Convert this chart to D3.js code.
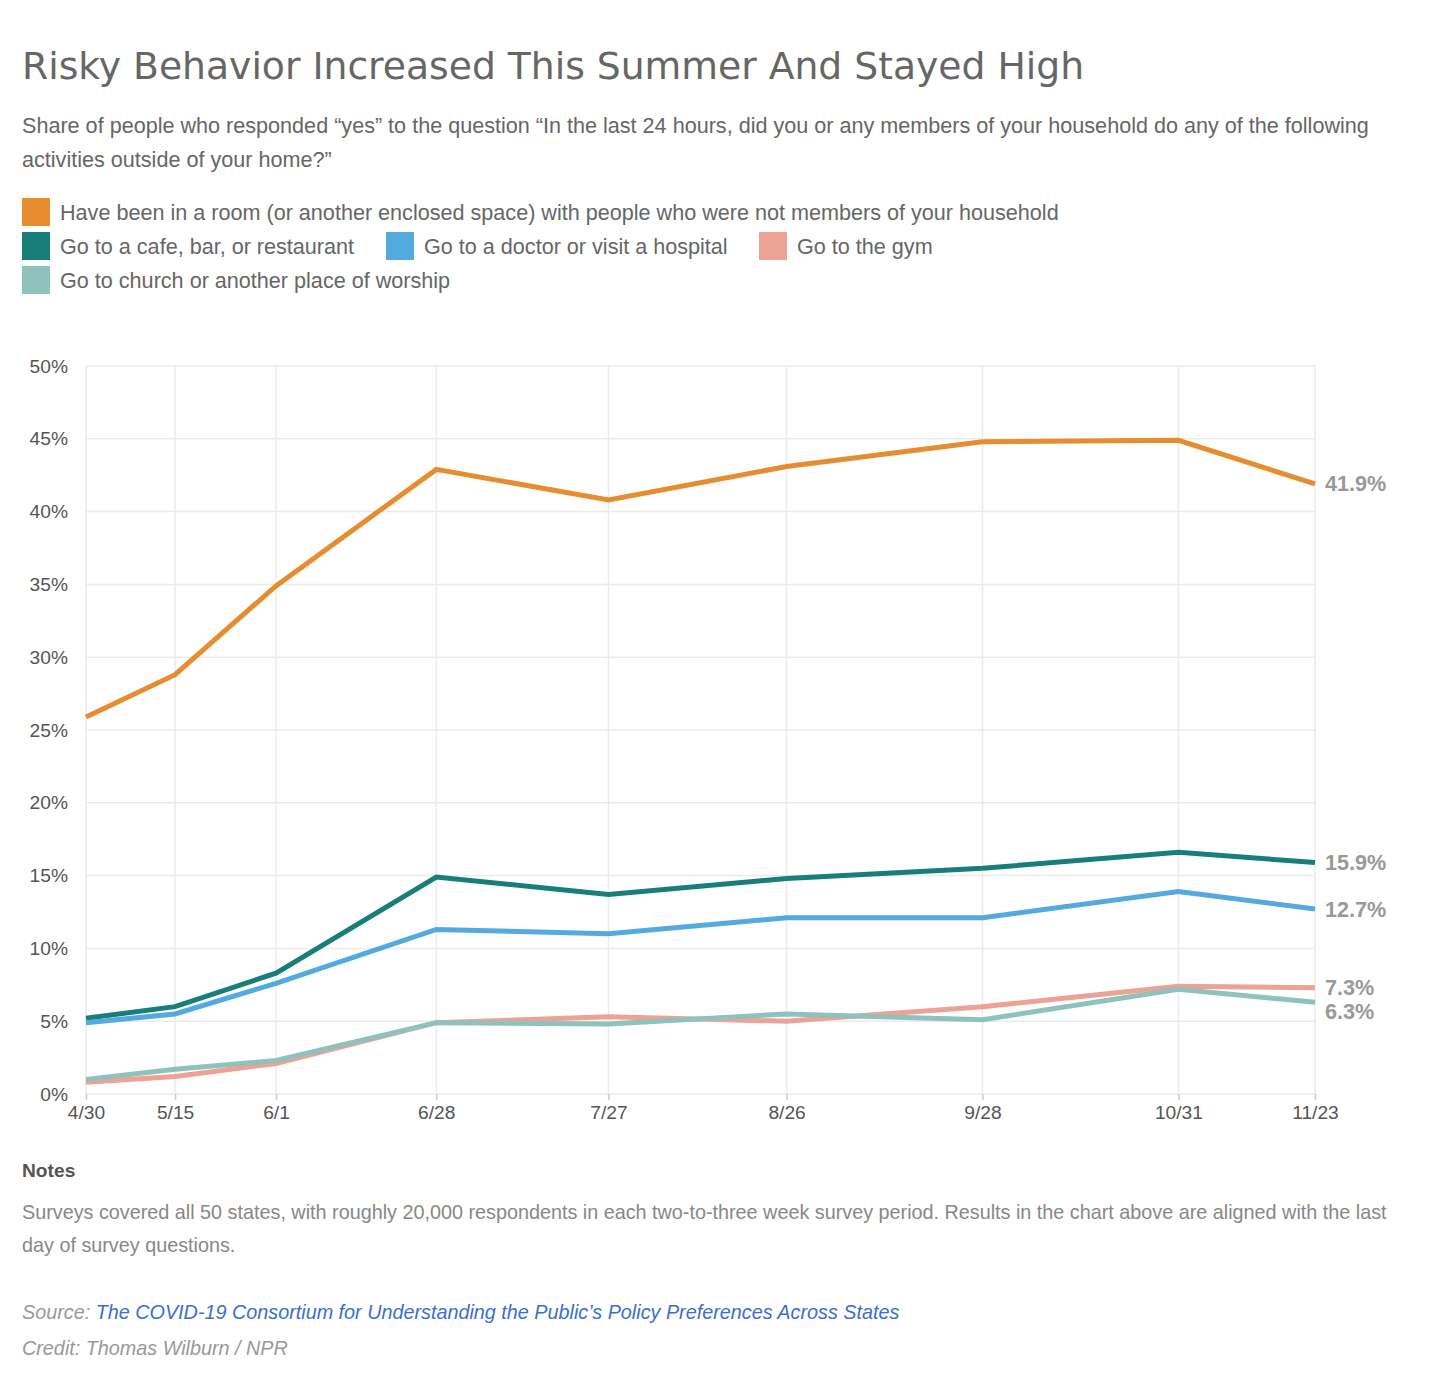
<!DOCTYPE html>
<html><head><meta charset="utf-8">
<script src="https://cdn.jsdelivr.net/npm/d3@7"></script>
<style>
body{margin:0;background:#fff;}
text{font-family:"Liberation Sans",Arial,Helvetica,sans-serif;}
</style></head>
<body>
<svg id="chart" width="1436" height="1382"></svg>
<script>
const dates = ["2020-04-30","2020-05-15","2020-06-01","2020-06-28","2020-07-27","2020-08-26","2020-09-28","2020-10-31","2020-11-23"];
const tickLabels = ["4/30","5/15","6/1","6/28","7/27","8/26","9/28","10/31","11/23"];
const seriesNames = [
  "Have been in a room (or another enclosed space) with people who were not members of your household",
  "Go to a cafe, bar, or restaurant",
  "Go to a doctor or visit a hospital",
  "Go to the gym",
  "Go to church or another place of worship"
];
const roomValues   = [25.9, 28.8, 34.9, 42.9, 40.8, 43.1, 44.8, 44.9, 41.9];
const cafeValues   = [5.2, 6.0, 8.3, 14.9, 13.7, 14.8, 15.5, 16.6, 15.9];
const doctorValues = [4.9, 5.5, 7.6, 11.3, 11.0, 12.1, 12.1, 13.9, 12.7];
const gymValues    = [0.8, 1.2, 2.1, 4.9, 5.3, 5.0, 6.0, 7.4, 7.3];
const churchValues = [1.0, 1.7, 2.3, 4.9, 4.8, 5.5, 5.1, 7.2, 6.3];
const yTicks = [0,5,10,15,20,25,30,35,40,45,50];
const colors = ["#e68d2f","#187f78","#52aade","#eca295","#8fc2bd"];

const allValues = [roomValues, cafeValues, doctorValues, gymValues, churchValues];
const parse = d3.timeParse("%Y-%m-%d");
const dts = dates.map(parse);

const svg = d3.select("#chart");

// Title & subtitle
svg.append("text").attr("x",22).attr("y",79)
  .style("font-family","'DejaVu Sans',sans-serif").style("font-size","37.7px").attr("fill","#666")
  .text("Risky Behavior Increased This Summer And Stayed High");
const sub = svg.append("text").style("font-size","21.6px").attr("fill","#666");
sub.append("tspan").attr("x",22).attr("y",133).text("Share of people who responded \u201cyes\u201d to the question \u201cIn the last 24 hours, did you or any members of your household do any of the following");
sub.append("tspan").attr("x",22).attr("y",167).text("activities outside of your home?\u201d");

// Legend
const legendPos = [[22,198],[22,232],[386,232],[759,232],[22,266]];
seriesNames.forEach((n,i)=>{
  const [lx,ly] = legendPos[i];
  svg.append("rect").attr("x",lx).attr("y",ly).attr("width",28).attr("height",28).attr("fill",colors[i]);
  svg.append("text").attr("x",lx+38).attr("y",ly+22).style("font-size","21.6px").attr("fill","#666").text(n);
});

// Chart
const x = d3.scaleTime().domain([dts[0], dts[dts.length-1]]).range([86,1315]);
const y = d3.scaleLinear().domain([0,50]).range([1094,366]);

const g = svg.append("g");
g.selectAll(".hg").data(yTicks).join("line")
  .attr("x1",86).attr("x2",1315).attr("y1",d=>y(d)).attr("y2",d=>y(d))
  .attr("stroke","#ebebeb").attr("stroke-width",1.5);
g.selectAll(".vg").data(dts).join("line")
  .attr("x1",d=>x(d)).attr("x2",d=>x(d)).attr("y1",366).attr("y2",1094)
  .attr("stroke","#ebebeb").attr("stroke-width",1.5);

// y axis labels
const yAxis = d3.axisLeft(y).tickValues(yTicks).tickFormat(d=>d+"%").tickSize(0).tickPadding(18);
const ya = svg.append("g").attr("transform","translate(86,0)").call(yAxis);
ya.select(".domain").remove();
ya.selectAll("text").style("font-size","19.2px").attr("fill","#555").style("font-family","'Liberation Sans',Arial,sans-serif");

// x axis
const xAxis = d3.axisBottom(x).tickValues(dts).tickFormat((d,i)=>tickLabels[i]).tickSize(6).tickPadding(5);
const xa = svg.append("g").attr("transform","translate(0,1094)").call(xAxis);
xa.select(".domain").remove();
xa.selectAll("line").attr("stroke","#ccc").attr("stroke-width",1.5);
xa.selectAll("text").style("font-size","19.2px").attr("fill","#555").style("font-family","'Liberation Sans',Arial,sans-serif");

// lines
const line = d3.line().x((d,i)=>x(dts[i])).y(d=>y(d));
allValues.forEach((vals,i)=>{
  svg.append("path").datum(vals).attr("d",line).attr("fill","none")
    .attr("stroke",colors[i]).attr("stroke-width",5).attr("stroke-linejoin","miter");
});

// end labels with collision avoidance
const labels = allValues.map(v=>({v:v[v.length-1], y:y(v[v.length-1])})).sort((a,b)=>a.y-b.y);
for(let i=1;i<labels.length;i++){ if(labels[i].y - labels[i-1].y < 24) labels[i].y = labels[i-1].y + 24; }
labels.forEach(l=>{
  svg.append("text").attr("x",1325).attr("y",l.y).attr("dy","0.35em")
    .style("font-size","21.6px").style("font-weight","bold").attr("fill","#999")
    .text(d3.format(".1f")(l.v)+"%");
});

// Notes
svg.append("text").attr("x",22).attr("y",1177).style("font-size","19.2px").style("font-weight","bold").attr("fill","#555").text("Notes");
const nt = svg.append("text").style("font-size","19.8px").attr("fill","#888");
nt.append("tspan").attr("x",22).attr("y",1219).text("Surveys covered all 50 states, with roughly 20,000 respondents in each two-to-three week survey period. Results in the chart above are aligned with the last");
nt.append("tspan").attr("x",22).attr("y",1252).text("day of survey questions.");

const src = svg.append("text").attr("x",22).attr("y",1319).style("font-size","19.8px").style("font-style","italic");
src.append("tspan").attr("fill","#999").text("Source: ");
src.append("tspan").attr("fill","#3a6fd0").text("The COVID-19 Consortium for Understanding the Public\u2019s Policy Preferences Across States");
svg.append("text").attr("x",22).attr("y",1355).style("font-size","19.8px").style("font-style","italic").attr("fill","#999").text("Credit: Thomas Wilburn / NPR");
</script>
</body></html>
